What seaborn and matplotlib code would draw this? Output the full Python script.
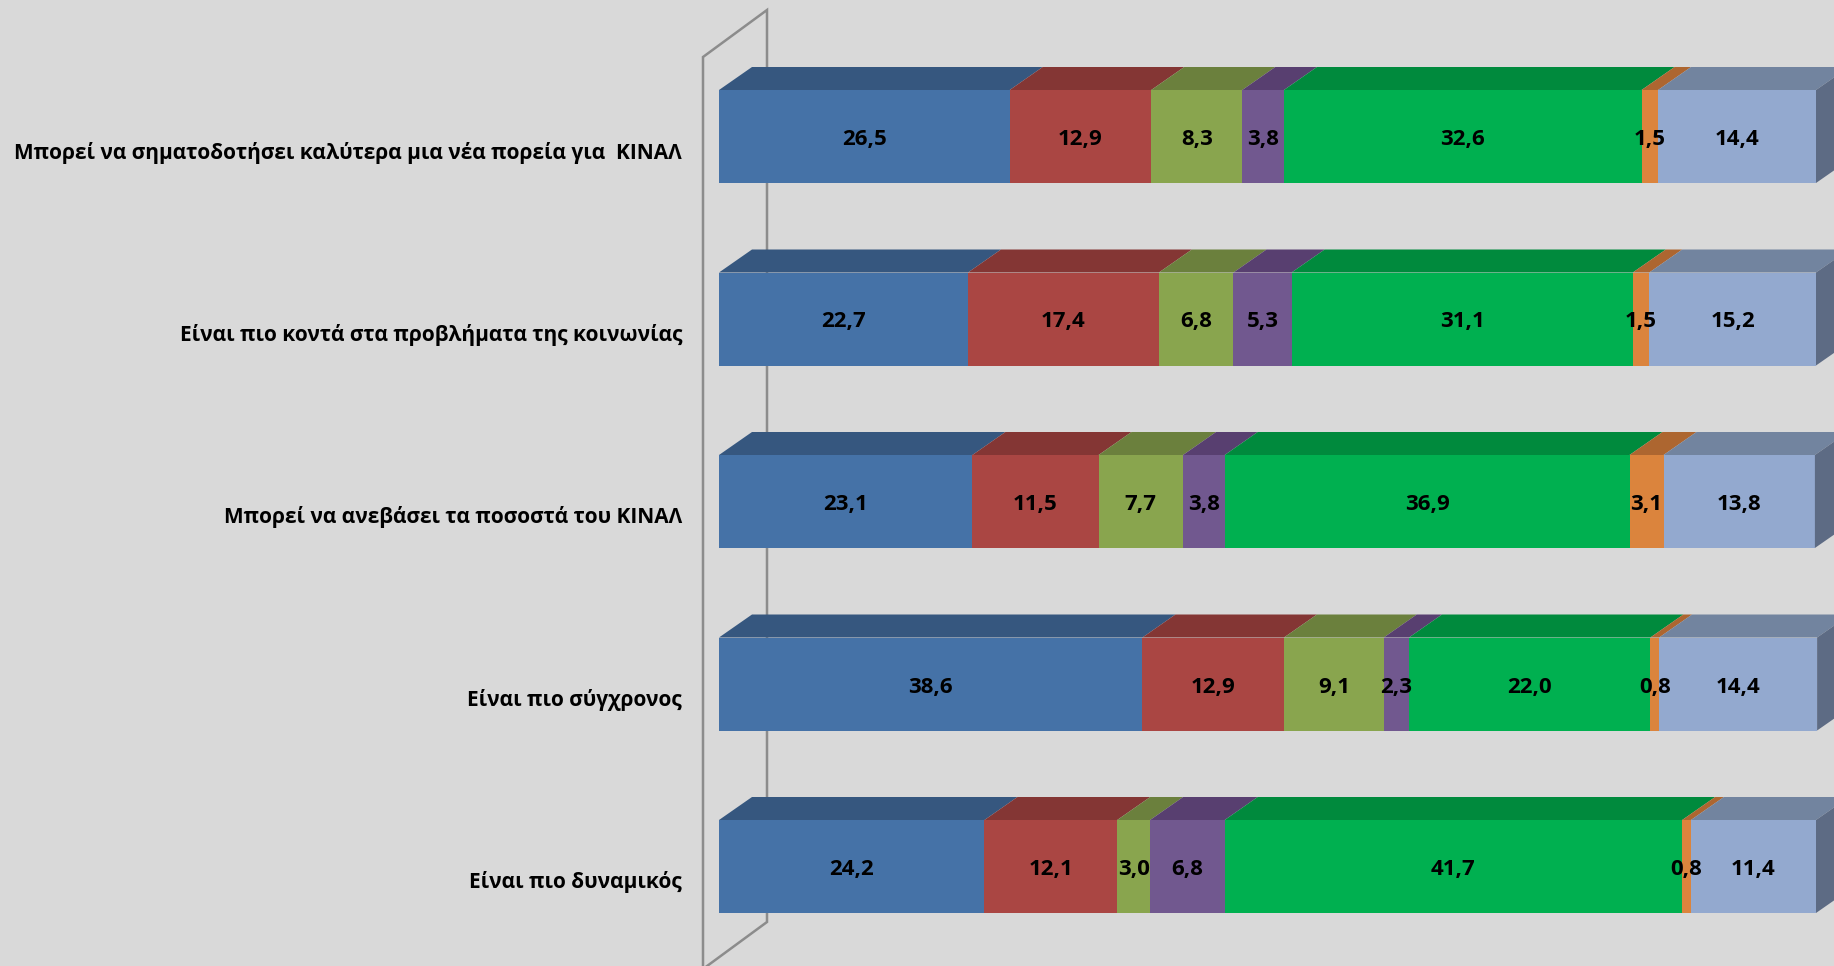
import numpy as np
import pandas as pd
import matplotlib
matplotlib.use("Agg")
import matplotlib.pyplot as plt
from matplotlib.patches import Polygon
import seaborn as sns

# ---------------- data ----------------
categories = [
    "Μπορεί να σηματοδοτήσει καλύτερα μια νέα πορεία για  ΚΙΝΑΛ",
    "Είναι πιο κοντά στα προβλήματα της κοινωνίας",
    "Μπορεί να ανεβάσει τα ποσοστά του ΚΙΝΑΛ",
    "Είναι πιο σύγχρονος",
    "Είναι πιο δυναμικός",
]
series_1 = [26.5, 22.7, 23.1, 38.6, 24.2]
series_2 = [12.9, 17.4, 11.5, 12.9, 12.1]
series_3 = [8.3, 6.8, 7.7, 9.1, 3.0]
series_4 = [3.8, 5.3, 3.8, 2.3, 6.8]
series_5 = [32.6, 31.1, 36.9, 22.0, 41.7]
series_6 = [1.5, 1.5, 3.1, 0.8, 0.8]
series_7 = [14.4, 15.2, 13.8, 14.4, 11.4]

series = [series_1, series_2, series_3, series_4, series_5, series_6, series_7]
front_colors = ["#4572A7", "#AA4643", "#89A54E", "#71588F", "#00B050", "#DB843D", "#93A9CF"]
top_colors = ["#36577F", "#843634", "#6B803D", "#583F70", "#008A3D", "#AD6630", "#72849F"]
side_color = "#5D6B84"
bg = "#D9D9D9"

# ---------------- layout ----------------
W, H = 1834, 966
sns.set_theme(style="white")
plt.rcParams["font.family"] = ["Open Sans", "DejaVu Sans"]

fig = plt.figure(figsize=(W / 100, H / 100), dpi=100)
fig.patch.set_facecolor(bg)
ax = fig.add_axes([0, 0, 1, 1])
ax.set_facecolor(bg)

x0_px, px_per_pct = 719.0, 10.97
y0_px, row_px = 136.5, 182.5
bar_h = 93 / row_px
dx = 33 / px_per_pct
dy = 23 / row_px

vals = np.array(series)            # shape (7, 5)
cum = np.cumsum(vals, axis=0)
left = cum - vals

df = pd.DataFrame({"cat": categories})
for k in reversed(range(len(series))):
    df["v"] = cum[k]
    sns.barplot(data=df, x="v", y="cat", orient="h", color=front_colors[k],
                saturation=1, width=bar_h, linewidth=0, edgecolor="none", ax=ax,
                order=categories, zorder=2)

ax.set_xlim(-x0_px / px_per_pct, (W - x0_px) / px_per_pct)
ax.set_ylim((H - y0_px) / row_px, -y0_px / row_px)
ax.set_axis_off()

txt_off = 3 / row_px

# 3D top faces & side face
for i in range(len(categories)):
    yt = i - bar_h / 2
    yb = i + bar_h / 2
    for k in range(len(series)):
        l, r = left[k, i], cum[k, i]
        ax.add_patch(Polygon([(l, yt), (r, yt), (r + dx, yt - dy), (l + dx, yt - dy)],
                             closed=True, facecolor=top_colors[k], edgecolor="none", zorder=3))
    r = cum[-1, i]
    ax.add_patch(Polygon([(r, yt), (r + dx, yt - dy), (r + dx, yb - dy), (r, yb)],
                         closed=True, facecolor=side_color, edgecolor="none", zorder=3))
    # value labels
    for k in range(len(series)):
        c = (left[k, i] + cum[k, i]) / 2
        ax.text(c, i + txt_off, f"{vals[k, i]:.1f}".replace(".", ","), ha="center", va="center",
                fontsize=16, fontweight="bold", color="black", zorder=5)
    # category labels
    ax.text((682 - x0_px) / px_per_pct, i + 13 / row_px + txt_off, categories[i], ha="right",
            va="center", fontsize=15, fontweight="bold", color="black", zorder=5)

# back wall outline
def px2d(px, py):
    return (px - x0_px) / px_per_pct, (py - y0_px) / row_px

wall = [px2d(703, 1000), px2d(703, 57), px2d(767, 10), px2d(767, 922), px2d(703, 969)]
wx, wy = zip(*wall)
ax.plot(wx, wy, color="#8C8C8C", lw=1.8, zorder=0.5, solid_joinstyle="miter")

fig.savefig("out.png", dpi=100, facecolor=bg)
